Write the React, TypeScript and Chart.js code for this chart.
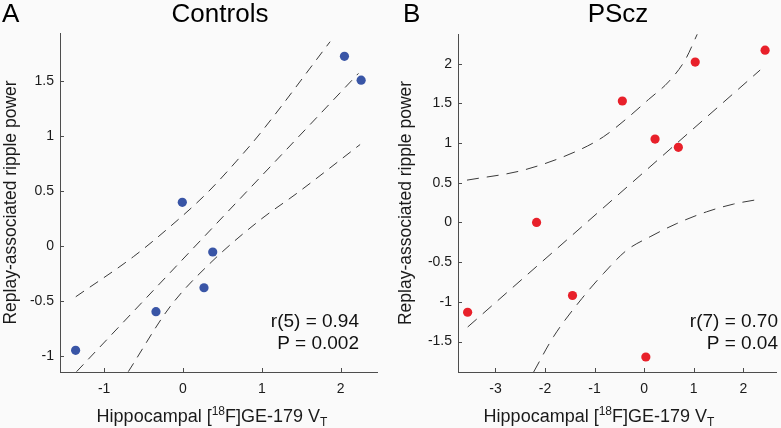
import React, { useEffect, useRef } from "react";
import { Chart, registerables } from "chart.js";

Chart.register(...registerables);

// ---------- Data ----------
// Panel A: Controls
const controlsX = [2.047, 2.259, -0.009, 0.377, 0.266, -0.343, -1.362];
const controlsY = [1.722, 1.505, 0.395, -0.057, -0.382, -0.6, -0.951];
const controlsFitX = [-1.35, 2.225];
const controlsFitY = [-1.145, 1.567];
const controlsUpperX = [-1.36, -0.63, -0.165, 0.3, 0.765, 0.977, 1.865];
const controlsUpperY = [-0.464, -0.1, 0.173, 0.476, 0.84, 1.02, 1.855];
const controlsLowerX = [-0.694, -0.165, 0.343, 0.977, 1.443, 2.246];
const controlsLowerY = [-1.145, -0.555, -0.16, 0.234, 0.476, 0.92];
const controlsXTicks = [-1, 0, 1, 2];
const controlsYTicks = [-1, -0.5, 0, 0.5, 1, 1.5];
const controlsStats = ["r(5) = 0.94", "P = 0.002"];

// Panel B: PScz
const psczX = [2.44, 1.03, -0.44, 0.22, 0.69, -2.171, -1.446, -3.562, 0.034];
const psczY = [2.17, 2.02, 1.53, 1.05, 0.946, 0.0, -0.92, -1.131, -1.695];
const psczFitX = [-3.56, 2.34];
const psczFitY = [-1.317, 1.92];
const psczUpperX = [-3.575, -2.43, -1.32, -0.82, -0.35, 0.09, 0.49, 0.83, 1.07];
const psczUpperY = [0.533, 0.66, 0.91, 1.08, 1.31, 1.55, 1.77, 2.05, 2.37];
const psczLowerX = [-2.23, -1.83, -1.256, -0.82, -0.35, 0.12, 0.66, 1.26, 1.8, 2.3];
const psczLowerY = [-1.884, -1.44, -0.958, -0.643, -0.349, -0.18, -0.013, 0.134, 0.231, 0.29];
const psczXTicks = [-3, -2, -1, 0, 1, 2];
const psczYTicks = [-1.5, -1, -0.5, 0, 0.5, 1, 1.5, 2];
const psczStats = ["r(7) = 0.70", "P = 0.04"];

const FONT = '"Liberation Sans", Arial, Helvetica, sans-serif';

const zip = (xs: number[], ys: number[]) => xs.map((x, i) => ({ x, y: ys[i] }));

type PanelSpec = {
  letter: string;
  title: string;
  color: string;
  xs: number[];
  ys: number[];
  fitX: number[];
  fitY: number[];
  upX: number[];
  upY: number[];
  loX: number[];
  loY: number[];
  xTicks: number[];
  yTicks: number[];
  xMin: number;
  xMax: number;
  yMin: number;
  yMax: number;
  stats: string[];
  width: number;
  area: { left: number; right: number; top: number; bottom: number };
  letterX: number;
  titleX: number;
  xLabelX: number;
  yLabelX: number;
  statsX: number;
  dash: number[];
};

const panels: PanelSpec[] = [
  {
    letter: "A",
    title: "Controls",
    color: "#3955a6",
    xs: controlsX,
    ys: controlsY,
    fitX: controlsFitX,
    fitY: controlsFitY,
    upX: controlsUpperX,
    upY: controlsUpperY,
    loX: controlsLowerX,
    loY: controlsLowerY,
    xTicks: controlsXTicks,
    yTicks: controlsYTicks,
    xMin: -1.56,
    xMax: 2.46,
    yMin: -1.148,
    yMax: 1.934,
    stats: controlsStats,
    width: 390,
    area: { left: 60, right: 377, top: 33, bottom: 372 },
    letterX: 2,
    titleX: 220,
    xLabelX: 212,
    yLabelX: 15.5,
    statsX: 359,
    dash: [10, 7],
  },
  {
    letter: "B",
    title: "PScz",
    color: "#e8202a",
    xs: psczX,
    ys: psczY,
    fitX: psczFitX,
    fitY: psczFitY,
    upX: psczUpperX,
    upY: psczUpperY,
    loX: psczLowerX,
    loY: psczLowerY,
    xTicks: psczXTicks,
    yTicks: psczYTicks,
    xMin: -3.756,
    xMax: 2.66,
    yMin: -1.884,
    yMax: 2.374,
    stats: psczStats,
    width: 391,
    area: { left: 68, right: 386, top: 34, bottom: 372 },
    letterX: 13,
    titleX: 228,
    xLabelX: 209,
    yLabelX: 20.5,
    statsX: 388,
    dash: [12, 8],
  },
];

function makeDecorPlugin(p: PanelSpec) {
  return {
    id: "decor" + p.letter,
    afterDraw(chart: any) {
      const ctx = chart.ctx as CanvasRenderingContext2D;
      const ca = chart.chartArea;
      const xs = chart.scales.x;
      const ys = chart.scales.y;
      ctx.save();
      // inward tick marks
      ctx.strokeStyle = "#4d4d4d";
      ctx.lineWidth = 1;
      ctx.beginPath();
      p.xTicks.forEach((v) => {
        const px = Math.round(xs.getPixelForValue(v)) + 0.5;
        ctx.moveTo(px, ca.bottom);
        ctx.lineTo(px, ca.bottom - 4);
      });
      p.yTicks.forEach((v) => {
        const py = Math.round(ys.getPixelForValue(v)) + 0.5;
        ctx.moveTo(ca.left, py);
        ctx.lineTo(ca.left + 4, py);
      });
      ctx.stroke();

      ctx.fillStyle = "#000";
      ctx.textBaseline = "alphabetic";
      // panel letter
      ctx.font = `26px ${FONT}`;
      ctx.textAlign = "left";
      ctx.fillText(p.letter, p.letterX, 22);
      // title
      ctx.textAlign = "center";
      ctx.fillText(p.title, p.titleX, 22);

      // stats
      ctx.font = `19px ${FONT}`;
      ctx.textAlign = "right";
      ctx.fillStyle = "#111";
      ctx.fillText(p.stats[0], p.statsX, 327);
      ctx.fillText(p.stats[1], p.statsX, 349);

      // x label with super/subscript
      ctx.fillStyle = "#1a1a1a";
      const big = 18;
      const small = 12;
      const pieces = [
        { t: "Hippocampal [", s: big, dy: 0 },
        { t: "18", s: small, dy: -7 },
        { t: "F]GE-179 V", s: big, dy: 0 },
        { t: "T", s: small, dy: 4 },
      ];
      let total = 0;
      const widths = pieces.map((pc) => {
        ctx.font = `${pc.s}px ${FONT}`;
        const w = ctx.measureText(pc.t).width;
        total += w;
        return w;
      });
      let cx = p.xLabelX - total / 2;
      ctx.textAlign = "left";
      pieces.forEach((pc, i) => {
        ctx.font = `${pc.s}px ${FONT}`;
        ctx.fillText(pc.t, cx, 422 + pc.dy);
        cx += widths[i];
      });

      // y label
      ctx.save();
      ctx.translate(p.yLabelX, (ca.top + ca.bottom) / 2);
      ctx.rotate(-Math.PI / 2);
      ctx.font = `17.5px ${FONT}`;
      ctx.textAlign = "center";
      ctx.fillText("Replay-associated ripple power", 0, 0);
      ctx.restore();

      ctx.restore();
    },
  };
}

function Panel({ spec }: { spec: PanelSpec }) {
  const ref = useRef<HTMLCanvasElement | null>(null);
  useEffect(() => {
    if (!ref.current) return;
    const p = spec;
    const lineStyle = {
      type: "line" as const,
      showLine: true,
      borderColor: "#3a3a3a",
      borderWidth: 1,
      borderDash: p.dash,
      pointRadius: 0,
      fill: false,
      cubicInterpolationMode: "monotone" as const,
    };
    const chart = new Chart(ref.current, {
      type: "scatter",
      data: {
        datasets: [
          { ...lineStyle, data: zip(p.upX, p.upY) },
          { ...lineStyle, data: zip(p.fitX, p.fitY) },
          { ...lineStyle, data: zip(p.loX, p.loY) },
          {
            type: "scatter",
            data: zip(p.xs, p.ys),
            backgroundColor: p.color,
            borderColor: p.color,
            pointRadius: 4.6,
            pointBorderWidth: 0,
          },
        ] as any,
      },
      options: {
        responsive: false,
        animation: false,
        events: [],
        layout: {
          padding: {
            left: 0,
            top: p.area.top,
            right: p.width - p.area.right,
            bottom: 0,
          },
        },
        plugins: {
          legend: { display: false },
          tooltip: { enabled: false },
          title: { display: false },
        },
        scales: {
          x: {
            type: "linear",
            min: p.xMin,
            max: p.xMax,
            afterFit: (s: any) => {
              s.height = 428 - p.area.bottom;
            },
            afterBuildTicks: (s: any) => {
              s.ticks = p.xTicks.map((v) => ({ value: v }));
            },
            grid: { display: false, drawTicks: false },
            border: { display: true, color: "#4d4d4d", width: 1 },
            ticks: {
              padding: 9,
              color: "#1a1a1a",
              font: { family: FONT, size: 14 },
              maxRotation: 0,
              autoSkip: false,
              callback: (v: any) => String(v),
            },
          },
          y: {
            type: "linear",
            min: p.yMin,
            max: p.yMax,
            afterFit: (s: any) => {
              s.width = p.area.left;
            },
            afterBuildTicks: (s: any) => {
              s.ticks = p.yTicks.map((v) => ({ value: v }));
            },
            grid: { display: false, drawTicks: false },
            border: { display: true, color: "#4d4d4d", width: 1 },
            ticks: {
              padding: 6,
              color: "#1a1a1a",
              font: { family: FONT, size: 14 },
              autoSkip: false,
              callback: (v: any) => String(v),
            },
          },
        },
      } as any,
      plugins: [makeDecorPlugin(p)],
    });
    return () => chart.destroy();
  }, [spec]);
  return (
    <canvas
      ref={ref}
      width={spec.width}
      height={428}
      style={{ display: "block", width: spec.width, height: 428 }}
    />
  );
}

export default function App() {
  return (
    <div
      style={{
        position: "fixed",
        left: 0,
        top: 0,
        width: 781,
        height: 428,
        background: "#fafafa",
        display: "flex",
        flexDirection: "row",
      }}
    >
      <Panel spec={panels[0]} />
      <Panel spec={panels[1]} />
    </div>
  );
}
